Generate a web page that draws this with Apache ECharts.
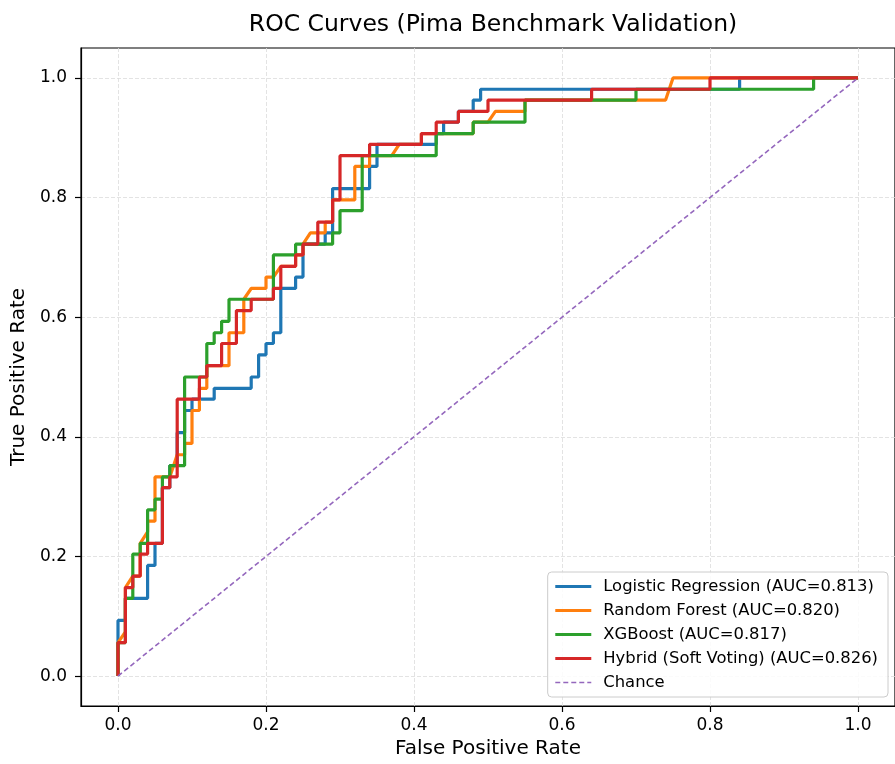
<!DOCTYPE html>
<html>
<head>
<meta charset="utf-8">
<script src="https://cdn.jsdelivr.net/npm/echarts@6/dist/echarts.min.js"></script>
<style>
  html, body { margin: 0; padding: 0; background: #ffffff; }
  #chart { width: 895px; height: 764px; }
</style>
</head>
<body>
<div id="chart"></div>
<script>
// ROC points [FPR, TPR]
const logisticRoc = [[0,0],[0,0.093],[0.01,0.093],[0.01,0.130],[0.04,0.130],[0.04,0.185],[0.05,0.185],[0.05,0.222],[0.06,0.222],[0.06,0.315],[0.07,0.315],[0.07,0.352],[0.08,0.352],[0.08,0.407],[0.09,0.407],[0.09,0.444],[0.10,0.444],[0.10,0.463],[0.13,0.463],[0.13,0.481],[0.18,0.481],[0.18,0.500],[0.19,0.500],[0.19,0.537],[0.20,0.537],[0.20,0.556],[0.21,0.556],[0.21,0.574],[0.22,0.574],[0.22,0.648],[0.24,0.648],[0.24,0.667],[0.25,0.667],[0.25,0.722],[0.28,0.722],[0.28,0.741],[0.29,0.741],[0.29,0.815],[0.34,0.815],[0.34,0.852],[0.35,0.852],[0.35,0.889],[0.43,0.889],[0.43,0.907],[0.44,0.907],[0.44,0.926],[0.46,0.926],[0.46,0.944],[0.48,0.944],[0.48,0.963],[0.49,0.963],[0.49,0.981],[0.84,0.981],[0.84,1],[1,1]];
const forestRoc = [[0,0],[0,0.056],[0.01,0.074],[0.01,0.148],[0.02,0.167],[0.03,0.167],[0.03,0.222],[0.04,0.241],[0.04,0.259],[0.05,0.259],[0.05,0.333],[0.07,0.333],[0.08,0.370],[0.09,0.370],[0.09,0.389],[0.10,0.389],[0.10,0.444],[0.11,0.444],[0.11,0.481],[0.12,0.481],[0.12,0.519],[0.15,0.519],[0.15,0.574],[0.17,0.574],[0.17,0.630],[0.18,0.648],[0.20,0.648],[0.20,0.667],[0.21,0.667],[0.22,0.685],[0.24,0.685],[0.24,0.704],[0.25,0.704],[0.25,0.722],[0.26,0.741],[0.28,0.741],[0.28,0.759],[0.29,0.759],[0.29,0.796],[0.32,0.796],[0.32,0.852],[0.34,0.852],[0.34,0.870],[0.37,0.870],[0.38,0.889],[0.41,0.889],[0.41,0.907],[0.48,0.907],[0.48,0.926],[0.50,0.926],[0.51,0.944],[0.55,0.944],[0.55,0.963],[0.74,0.963],[0.75,1],[1,1]];
const xgbRoc = [[0,0],[0,0.056],[0.01,0.056],[0.01,0.130],[0.02,0.130],[0.02,0.204],[0.03,0.204],[0.03,0.222],[0.04,0.222],[0.04,0.278],[0.05,0.278],[0.05,0.296],[0.06,0.296],[0.06,0.333],[0.07,0.333],[0.07,0.352],[0.09,0.352],[0.09,0.500],[0.12,0.500],[0.12,0.556],[0.13,0.556],[0.13,0.574],[0.14,0.574],[0.14,0.593],[0.15,0.593],[0.15,0.630],[0.21,0.630],[0.21,0.704],[0.24,0.704],[0.24,0.722],[0.29,0.722],[0.29,0.741],[0.30,0.741],[0.30,0.778],[0.33,0.778],[0.33,0.870],[0.43,0.870],[0.43,0.907],[0.48,0.907],[0.48,0.926],[0.55,0.926],[0.55,0.963],[0.70,0.963],[0.70,0.981],[0.94,0.981],[0.94,1],[1,1]];
const hybridRoc = [[0,0],[0,0.056],[0.01,0.056],[0.01,0.148],[0.02,0.148],[0.02,0.167],[0.03,0.167],[0.03,0.204],[0.04,0.204],[0.04,0.222],[0.06,0.222],[0.06,0.315],[0.07,0.315],[0.07,0.333],[0.08,0.333],[0.08,0.463],[0.11,0.463],[0.11,0.500],[0.12,0.500],[0.12,0.519],[0.14,0.519],[0.14,0.556],[0.16,0.556],[0.16,0.611],[0.18,0.611],[0.18,0.630],[0.21,0.630],[0.21,0.648],[0.22,0.648],[0.22,0.685],[0.24,0.685],[0.24,0.704],[0.25,0.704],[0.25,0.722],[0.27,0.722],[0.27,0.759],[0.29,0.759],[0.29,0.796],[0.30,0.796],[0.30,0.870],[0.34,0.870],[0.34,0.889],[0.41,0.889],[0.41,0.907],[0.43,0.907],[0.43,0.926],[0.46,0.926],[0.46,0.944],[0.50,0.944],[0.50,0.963],[0.64,0.963],[0.64,0.981],[0.80,0.981],[0.80,1],[1,1]];
const chanceLine = [[0,0],[1,1]];

const seriesNames = ['Logistic Regression (AUC=0.813)', 'Random Forest (AUC=0.820)', 'XGBoost (AUC=0.817)', 'Hybrid (Soft Voting) (AUC=0.826)', 'Chance'];
const tickValues = [0, 0.2, 0.4, 0.6, 0.8, 1.0];

const FONT = 'DejaVu Sans';
const colors = ['#1f77b4', '#ff7f0e', '#2ca02c', '#d62728', '#9467bd'];
const curves = [logisticRoc, forestRoc, xgbRoc, hybridRoc];

function axisCfg(name, isY) {
  return {
    type: 'value', min: -0.05, max: 1.05,
    name: name, nameLocation: 'middle', nameGap: isY ? 51 : 33,
    nameTextStyle: { fontFamily: FONT, fontSize: 20, color: '#000' },
    axisLine: { show: true, onZero: false, lineStyle: { color: '#000', width: 1.2 } },
    axisTick: { show: true, inside: false, length: 6, customValues: tickValues, lineStyle: { color: '#000', width: 1.2 } },
    axisLabel: { customValues: tickValues, fontFamily: FONT, fontSize: 17, color: '#000', margin: isY ? 14 : 11,
      formatter: v => v.toFixed(1) },
    splitLine: { show: true, lineStyle: { color: '#dcdcdc', width: 0.8, type: [4, 2] } }
  };
}

const series = curves.map((d, i) => ({
  name: seriesNames[i], type: 'line', data: d, symbol: 'none', showSymbol: false,
  lineStyle: { color: colors[i], width: 3.2 }, itemStyle: { color: colors[i] },
  animation: false, z: 2 + i
}));
series.push({
  name: seriesNames[4], type: 'line', data: chanceLine, symbol: 'none', showSymbol: false,
  lineStyle: { color: colors[4], width: 1.6, type: [5, 3] }, itemStyle: { color: colors[4] },
  animation: false, z: 7
});

const chart = echarts.init(document.getElementById('chart'), null, { renderer: 'canvas' });
chart.setOption({
  backgroundColor: '#ffffff',
  animation: false,
  title: {
    text: 'ROC Curves (Pima Benchmark Validation)', left: 488, top: 8, textAlign: 'center',
    textStyle: { fontFamily: FONT, fontSize: 23.5, fontWeight: 'normal', color: '#000' }
  },
  grid: { left: 81, right: 0, top: 48, bottom: 58, show: true, borderColor: '#000', borderWidth: 1.2, containLabel: false },
  xAxis: axisCfg('False Positive Rate', false),
  yAxis: axisCfg('True Positive Rate', true),
  legend: {
    data: seriesNames, orient: 'vertical', right: 7, bottom: 67,
    itemWidth: 36, itemHeight: 12, itemGap: 5,
    padding: [5, 10, 5, 6],
    itemStyle: { opacity: 0, borderWidth: 0 },
    lineStyle: { width: 'inherit' },
    backgroundColor: 'rgba(255,255,255,0.85)', borderColor: '#cccccc', borderWidth: 1, borderRadius: 4,
    textStyle: { fontFamily: FONT, fontSize: 16.4, color: '#000', lineHeight: 19, padding: [0, 0, 0, 7] }
  },
  series: series
});
</script>
</body>
</html>
